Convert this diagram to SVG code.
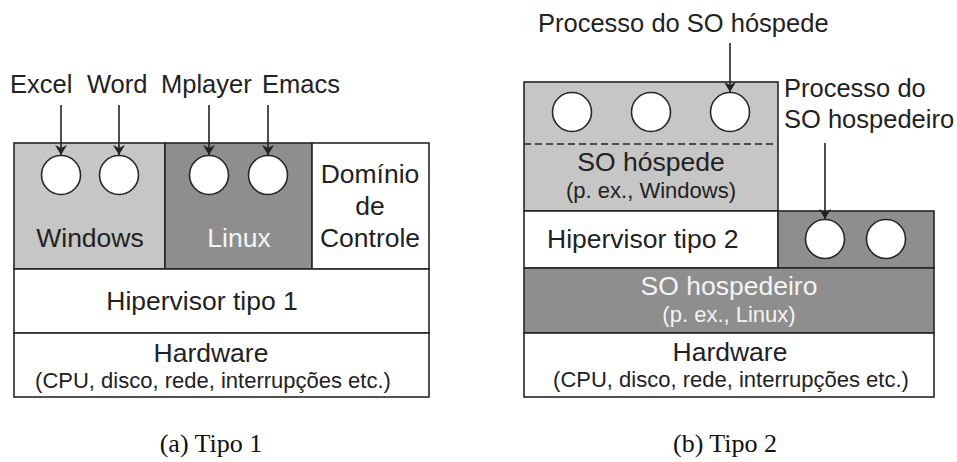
<svg xmlns="http://www.w3.org/2000/svg" width="957" height="462" viewBox="0 0 957 462">
  <style>
    .box { stroke: #262626; stroke-width: 1.6; }
    .light { fill: #c6c6c6; }
    .dark { fill: #8e8e8e; }
    .white { fill: #ffffff; }
    .proc { fill: #ffffff; stroke: #262626; stroke-width: 1.6; }
    .t { font-family: "Liberation Sans", Arial, sans-serif; fill: #222222; }
    .big { font-size: 26.5px; }
    .lbl { font-size: 25.5px; }
    .small { font-size: 22px; }
    .inv { fill: #f4f4f4; }
    .mid { text-anchor: middle; }
    .cap { font-family: "Liberation Serif", "Times New Roman", serif; font-size: 26px; fill: #111111; text-anchor: middle; }
    .arrow { stroke: #222222; stroke-width: 1.6; fill: none; marker-end: url(#head); }
  </style>
  <defs>
    <marker id="head" viewBox="0 0 10 12" refX="10" refY="6" markerWidth="10" markerHeight="12" markerUnits="userSpaceOnUse" orient="auto">
      <path d="M0,0 L10,6 L0,12 L3,6 Z" fill="#222222"/>
    </marker>
  </defs>

  <!-- (a) Type 1 hypervisor -->
  <g id="windows">
    <rect class="box light" x="14" y="143" width="151" height="126"/>
    <circle class="proc" cx="61" cy="175" r="19.5"/>
    <circle class="proc" cx="119" cy="175" r="19.5"/>
    <text class="t big mid" x="90" y="247">Windows</text>
  </g>
  <g id="linux">
    <rect class="box dark" x="165" y="143" width="147" height="126"/>
    <circle class="proc" cx="209" cy="175" r="19.5"/>
    <circle class="proc" cx="268" cy="175" r="19.5"/>
    <text class="t big mid inv" x="239" y="247">Linux</text>
  </g>
  <g id="control-domain">
    <rect class="box white" x="312" y="143" width="117" height="126"/>
    <text class="t big mid" x="370" y="183">Domínio</text>
    <text class="t big mid" x="370" y="215">de</text>
    <text class="t big mid" x="370" y="247">Controle</text>
  </g>
  <g id="hypervisor1">
    <rect class="box white" x="14" y="269" width="415" height="64"/>
    <text class="t big mid" x="202" y="310">Hipervisor tipo 1</text>
  </g>
  <g id="hardware-a">
    <rect class="box white" x="14" y="333" width="415" height="64"/>
    <text class="t big mid" x="211" y="362">Hardware</text>
    <text class="t small mid" x="213" y="388">(CPU, disco, rede, interrupções etc.)</text>
  </g>
  <g id="apps-a">
    <text class="t lbl" x="10" y="93">Excel</text>
    <text class="t lbl" x="87" y="93">Word</text>
    <text class="t lbl" x="161" y="93">Mplayer</text>
    <text class="t lbl" x="262" y="93">Emacs</text>
  </g>

  <!-- (b) Type 2 hypervisor -->
  <g id="guest-os">
    <rect class="box light" x="524" y="82" width="254" height="129"/>
    <line x1="524" y1="144" x2="778" y2="144" stroke="#262626" stroke-width="1.4" stroke-dasharray="7,4"/>
    <circle class="proc" cx="572" cy="112" r="19.5"/>
    <circle class="proc" cx="651" cy="112" r="19.5"/>
    <circle class="proc" cx="730" cy="112" r="19.5"/>
    <text class="t big mid" x="651" y="171">SO hóspede</text>
    <text class="t small mid" x="651" y="198">(p. ex., Windows)</text>
  </g>
  <g id="hypervisor2">
    <rect class="box white" x="524" y="211" width="254" height="57"/>
    <text class="t big" x="547" y="248">Hipervisor tipo 2</text>
  </g>
  <g id="host-procs">
    <rect class="box dark" x="778" y="211" width="156" height="57"/>
    <circle class="proc" cx="825" cy="239" r="19.5"/>
    <circle class="proc" cx="886" cy="239" r="19.5"/>
  </g>
  <g id="host-os">
    <rect class="box dark" x="524" y="268" width="410" height="65"/>
    <text class="t big mid inv" x="729" y="295">SO hospedeiro</text>
    <text class="t small mid inv" x="729" y="322">(p. ex., Linux)</text>
  </g>
  <g id="hardware-b">
    <rect class="box white" x="524" y="333" width="410" height="64"/>
    <text class="t big mid" x="730" y="361">Hardware</text>
    <text class="t small mid" x="731" y="387">(CPU, disco, rede, interrupções etc.)</text>
  </g>
  <g id="labels-b">
    <text class="t lbl" x="538" y="32">Processo do SO hóspede</text>
    <text class="t lbl" x="784" y="97">Processo do</text>
    <text class="t lbl" x="784" y="128">SO hospedeiro</text>
  </g>

  <!-- connectors -->
  <g id="connectors">
    <line class="arrow" x1="61" y1="105" x2="61" y2="155"/>
    <line class="arrow" x1="119" y1="105" x2="119" y2="155"/>
    <line class="arrow" x1="209" y1="105" x2="209" y2="155"/>
    <line class="arrow" x1="268" y1="105" x2="268" y2="155"/>
    <line class="arrow" x1="730" y1="43" x2="730" y2="92"/>
    <line class="arrow" x1="825" y1="143" x2="825" y2="219"/>
  </g>

  <!-- captions -->
  <text class="cap" x="211" y="452">(a) Tipo 1</text>
  <text class="cap" x="725" y="452">(b) Tipo 2</text>
</svg>
